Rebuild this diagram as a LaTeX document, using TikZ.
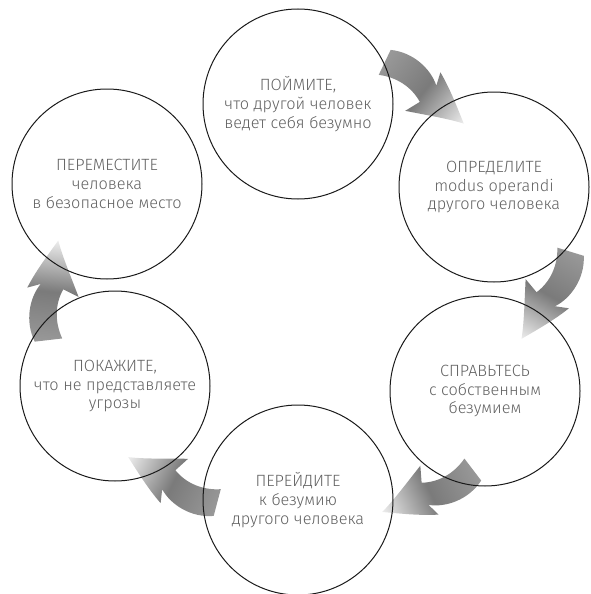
\documentclass[tikz,border=0pt]{standalone}
\usepackage{fontspec}
\setmainfont{Fira Sans Light}
\usetikzlibrary{calc}
\pgfdeclarelayer{bg}
\pgfsetlayers{bg,main}
\tikzset{
  stage/.style={circle, draw=black!90, line width=1pt, minimum size=190pt, inner sep=0pt,
    align=center, text=black!62, font=\fontsize{16.3}{18.8}\selectfont},
  arrowshade/.style={left color=black!40, right color=black!7, middle color=black!52}
}
\newcommand\cyclearrow[2]{%
  \pgfmathanglebetweenpoints{\pgfpointanchor{#1}{center}}{\pgfpointanchor{#2}{center}}%
  \edef\arrang{\pgfmathresult}%
  \begin{scope}[transform canvas={shift={(#1)}, rotate=\arrang}]
    \shade[arrowshade]
      (-3,-13) .. controls (16,-25) and (40,-23) .. (55,-13)
      -- (50,-26)
      .. controls (68,-19) and (86,-8) .. (100,0)
      .. controls (84,6) and (66,16) .. (46,26)
      -- (52,10)
      .. controls (36,3) and (18,5) .. (3,14) -- cycle;
  \end{scope}}
\begin{document}
\begin{tikzpicture}[x=1pt, y=-1pt]
\useasboundingbox (0,0) rectangle (591,594);
\node[stage] (c1) at (298,104) {ПОЙМИТЕ,\\что другой человек\\ведет себя безумно};
\node[stage] (c2) at (494,187) {ОПРЕДЕЛИТЕ\\modus operandi\\другого человека};
\node[stage] (c3) at (485,391) {СПРАВЬТЕСЬ\\с собственным\\безумием};
\node[stage] (c4) at (298,500) {ПЕРЕЙДИТЕ\\к безумию\\другого человека};
\node[stage] (c5) at (115,386) {ПОКАЖИТЕ,\\что не представляете\\угрозы};
\node[stage] (c6) at (107,184) {ПЕРЕМЕСТИТЕ\\человека\\в безопасное место};
\coordinate (t1) at (385,62);  \coordinate (p1) at (463,123);
\coordinate (t2) at (571,252); \coordinate (p2) at (522,338);
\coordinate (t3) at (473,470); \coordinate (p3) at (380,513);
\coordinate (t4) at (217,503); \coordinate (p4) at (128,457);
\coordinate (t5) at (48,340);  \coordinate (p5) at (58,243);
\begin{pgfonlayer}{bg}
\cyclearrow{t1}{p1}
\cyclearrow{t2}{p2}
\cyclearrow{t3}{p3}
\cyclearrow{t4}{p4}
\cyclearrow{t5}{p5}
\end{pgfonlayer}
\end{tikzpicture}
\end{document}
